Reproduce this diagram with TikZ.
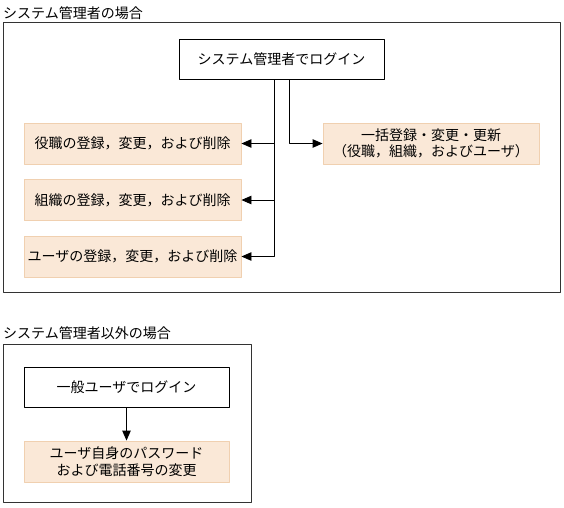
\documentclass[tikz,border=0pt]{standalone}
\usepackage{fontspec}
\setmainfont{Noto Sans CJK JP}
\usetikzlibrary{arrows.meta}
\definecolor{boxfill}{RGB}{250,232,215}
\definecolor{boxline}{RGB}{240,208,176}
\begin{document}
\begin{tikzpicture}[x=1pt, y=-1pt, font=\fontsize{14}{16.5}\selectfont,
    line join=round, >={Triangle[length=10pt,width=8.5pt]},
    plain/.style={draw, line width=0.9pt, minimum width=205pt, minimum height=40pt, inner sep=0pt},
    task/.style={draw=boxline, fill=boxfill, line width=0.9pt, minimum height=41pt, inner sep=0pt, align=center},
    frame/.style={draw=black!80, line width=1pt},
    caption/.style={anchor=west, inner sep=0pt}]
  \useasboundingbox (0,0) rectangle (564,507);
  % administrator
  \node[caption] (capadmin) at (3,13) {システム管理者の場合};
  \draw[frame] (3.5,22.5) rectangle (560.5,292.5);
  \node[plain] (admin) at (281.5,59) {システム管理者でログイン};
  \node[task, minimum width=217pt] (role) at (132.5,143.5) {役職の登録，変更，および削除};
  \node[task, minimum width=217pt] (org) at (132.5,200) {組織の登録，変更，および削除};
  \node[task, minimum width=217pt] (user) at (132.5,256.5) {ユーザの登録，変更，および削除};
  \node[task, minimum width=216pt] (bulk) at (431,143.5) {一括登録・変更・更新\\（役職，組織，およびユーザ）};
  \draw[->, line width=0.9pt] ([xshift=-7.5pt]admin.south) |- (role.east);
  \draw[->, line width=0.9pt] ([xshift=-7.5pt]admin.south) |- (org.east);
  \draw[->, line width=0.9pt] ([xshift=-7.5pt]admin.south) |- (user.east);
  \draw[->, line width=0.9pt] ([xshift=7.5pt]admin.south) |- (bulk.west);
  % other users
  \node[caption] (capuser) at (3,333) {システム管理者以外の場合};
  \draw[frame] (3.5,344.5) rectangle (251,502.5);
  \node[plain] (login) at (126.5,387) {一般ユーザでログイン};
  \node[task, minimum width=205pt] (self) at (126.5,461.5) {ユーザ自身のパスワード\\および電話番号の変更};
  \draw[->, line width=0.9pt] (login) -- (self);
\end{tikzpicture}
\end{document}
